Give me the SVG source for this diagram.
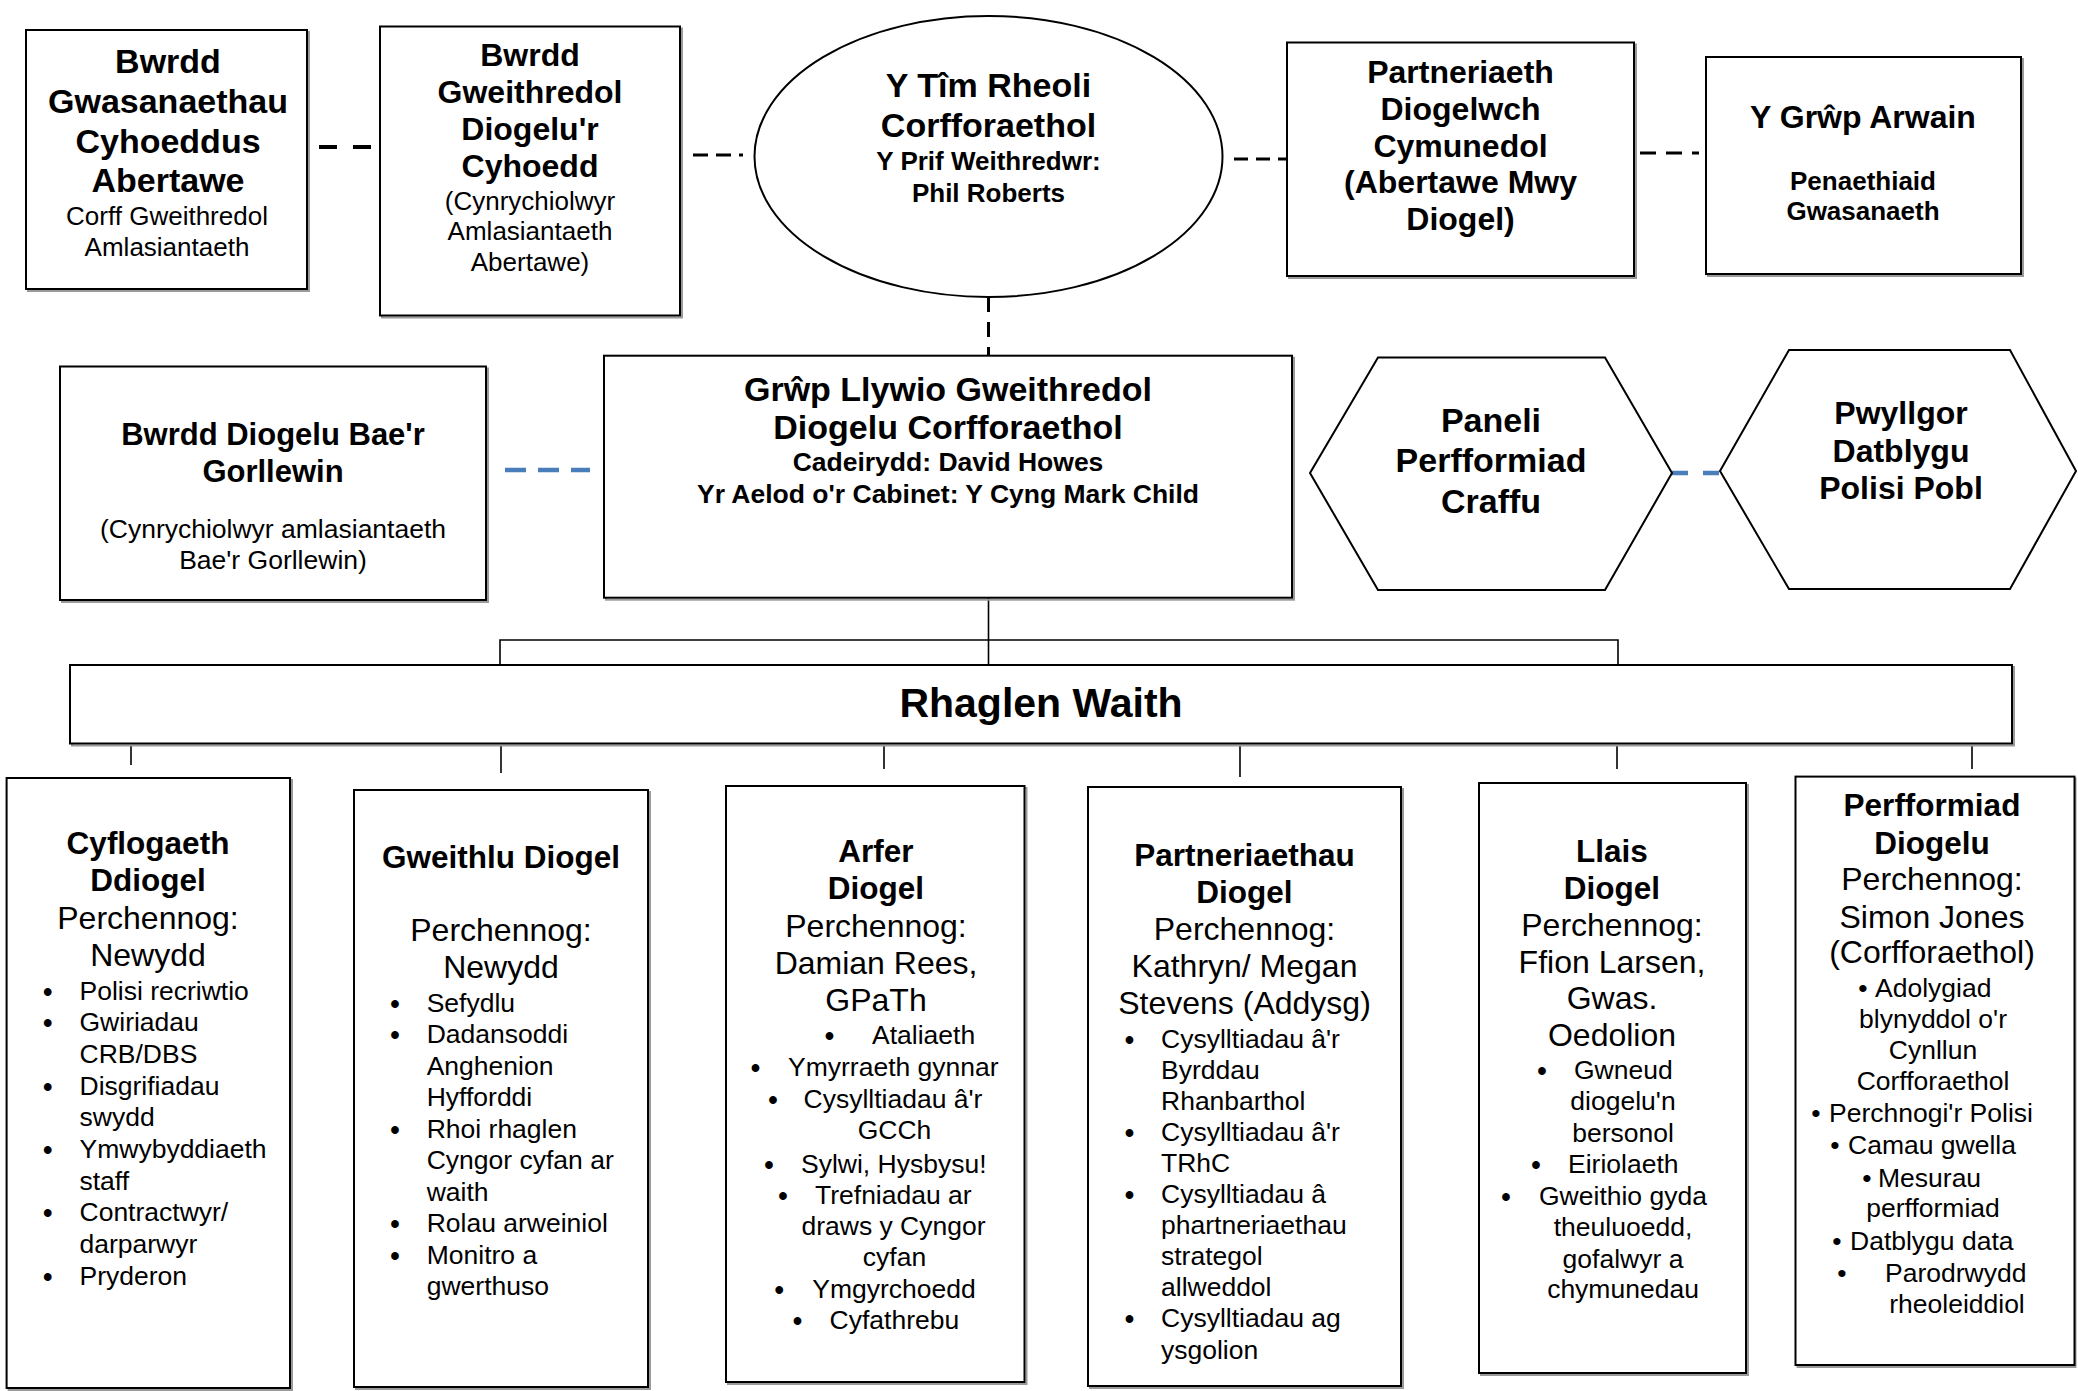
<svg xmlns="http://www.w3.org/2000/svg" width="2078" height="1391" viewBox="0 0 2078 1391">
<style>
text{font-family:'Liberation Sans',Arial,sans-serif;fill:#000}
.b{font-weight:bold;text-anchor:middle}
.c{text-anchor:middle}
.box{fill:#fff;stroke:#000;stroke-width:2}
.sh{fill:none;stroke:#9a9a9a;stroke-width:2}
.k{stroke:#000;fill:none}
.blue{stroke:#4a7ebb;fill:none;stroke-width:4.5}
.t{stroke:#000;stroke-width:1.6;fill:none}
.bl{font-size:26.5px}
.dot{font-size:27px;font-weight:bold;text-anchor:middle}
</style>
<rect width="2078" height="1391" fill="#fff"/>

<g id="connectors">
<line class="k" x1="319" y1="147" x2="371" y2="147" stroke-width="4" stroke-dasharray="18 16"/>
<line class="k" x1="693" y1="155" x2="743" y2="155" stroke-width="3" stroke-dasharray="15 8"/>
<line class="k" x1="1234" y1="159" x2="1287" y2="159" stroke-width="3" stroke-dasharray="14 8"/>
<line class="k" x1="1640" y1="153" x2="1699" y2="153" stroke-width="3" stroke-dasharray="16 10"/>
<line class="k" x1="988.5" y1="297" x2="988.5" y2="356" stroke-width="3" stroke-dasharray="15 10"/>
<line class="blue" x1="505" y1="470" x2="590" y2="470" stroke-dasharray="21 12"/>
<line class="blue" x1="1672" y1="473" x2="1720" y2="473" stroke-dasharray="16 15"/>
<path class="t" d="M988.5 598 V665 M500 665 V640 H1618 V665"/>
<line class="t" x1="131" y1="745" x2="131" y2="765"/>
<line class="t" x1="501" y1="745" x2="501" y2="773"/>
<line class="t" x1="884" y1="745" x2="884" y2="769" stroke-width="2.4"/>
<line class="t" x1="1240" y1="745" x2="1240" y2="777" stroke-width="2.4"/>
<line class="t" x1="1617" y1="745" x2="1617" y2="769" stroke-width="2.4"/>
<line class="t" x1="1972" y1="745" x2="1972" y2="769"/>
</g>

<g id="n-bwrdd-gwasanaethau">
<rect class="sh" x="28" y="32" width="281" height="259"/>
<rect class="box" x="26" y="30" width="281" height="259"/>
<text class="b" font-size="34"><tspan x="168" y="73">Bwrdd</tspan><tspan x="168" y="113">Gwasanaethau</tspan><tspan x="168" y="153">Cyhoeddus</tspan><tspan x="168" y="192">Abertawe</tspan></text>
<text class="c" font-size="26"><tspan x="167" y="225">Corff Gweithredol</tspan><tspan x="167" y="256">Amlasiantaeth</tspan></text>
</g>

<g id="n-bwrdd-gweithredol">
<rect class="sh" x="382" y="28.5" width="300" height="289"/>
<rect class="box" x="380" y="26.5" width="300" height="289"/>
<text class="b" font-size="32"><tspan x="530" y="66">Bwrdd</tspan><tspan x="530" y="103">Gweithredol</tspan><tspan x="530" y="140">Diogelu'r</tspan><tspan x="530" y="177">Cyhoedd</tspan></text>
<text class="c" font-size="26"><tspan x="530" y="209.5">(Cynrychiolwyr</tspan><tspan x="530" y="240">Amlasiantaeth</tspan><tspan x="530" y="270.5">Abertawe)</tspan></text>
</g>

<g id="n-tim-rheoli">
<ellipse cx="988.5" cy="156.5" rx="234" ry="140.5" fill="#fff" stroke="#000" stroke-width="2"/>
<text class="b" font-size="34"><tspan x="988.5" y="97">Y Tîm Rheoli</tspan><tspan x="988.5" y="137">Corfforaethol</tspan></text>
<text class="b" font-size="26"><tspan x="988.5" y="170">Y Prif Weithredwr:</tspan><tspan x="988.5" y="201.5">Phil Roberts</tspan></text>
</g>

<g id="n-partneriaeth">
<rect class="sh" x="1289" y="44.5" width="347" height="233.5"/>
<rect class="box" x="1287" y="42.5" width="347" height="233.5"/>
<text class="b" font-size="32"><tspan x="1460.5" y="83">Partneriaeth</tspan><tspan x="1460.5" y="120">Diogelwch</tspan><tspan x="1460.5" y="157">Cymunedol</tspan><tspan x="1460.5" y="193">(Abertawe Mwy</tspan><tspan x="1460.5" y="230">Diogel)</tspan></text>
</g>

<g id="n-grwp-arwain">
<rect class="sh" x="1708" y="59" width="315" height="217"/>
<rect class="box" x="1706" y="57" width="315" height="217"/>
<text class="b" font-size="32" x="1863" y="128">Y Grŵp Arwain</text>
<text class="b" font-size="26"><tspan x="1863" y="189.5">Penaethiaid</tspan><tspan x="1863" y="220">Gwasanaeth</tspan></text>
</g>

<g id="n-bae-gorllewin">
<rect class="sh" x="62" y="368.5" width="426" height="233.5"/>
<rect class="box" x="60" y="366.5" width="426" height="233.5"/>
<text class="b" font-size="31"><tspan x="273" y="444.5">Bwrdd Diogelu Bae'r</tspan><tspan x="273" y="481.5">Gorllewin</tspan></text>
<text class="c" font-size="26.5"><tspan x="273" y="538.3">(Cynrychiolwyr amlasiantaeth</tspan><tspan x="273" y="568.8">Bae'r Gorllewin)</tspan></text>
</g>

<g id="n-grwp-llywio">
<rect class="sh" x="606" y="357.7" width="688" height="242"/>
<rect class="box" x="604" y="355.7" width="688" height="242"/>
<text class="b" font-size="34"><tspan x="948" y="400.5">Grŵp Llywio Gweithredol</tspan><tspan x="948" y="439">Diogelu Corfforaethol</tspan></text>
<text class="b" font-size="26.5"><tspan x="948" y="470.5">Cadeirydd: David Howes</tspan><tspan x="948" y="502.5">Yr Aelod o'r Cabinet: Y Cyng Mark Child</tspan></text>
</g>

<g id="n-paneli">
<polygon points="1310,473 1378,357.5 1605,357.5 1672,473 1605,590 1378,590" fill="#fff" stroke="#000" stroke-width="2"/>
<text class="b" font-size="34"><tspan x="1491" y="432">Paneli</tspan><tspan x="1491" y="472">Perfformiad</tspan><tspan x="1491" y="513">Craffu</tspan></text>
</g>

<g id="n-pwyllgor">
<polygon points="1720,471 1789,350 2010,350 2076,471 2010,589 1789,589" fill="#fff" stroke="#000" stroke-width="2"/>
<text class="b" font-size="32"><tspan x="1901" y="424">Pwyllgor</tspan><tspan x="1901" y="461.5">Datblygu</tspan><tspan x="1901" y="498.5">Polisi Pobl</tspan></text>
</g>

<g id="n-rhaglen-waith">
<rect class="sh" x="72" y="667" width="1942" height="78.5"/>
<rect class="box" x="70" y="665" width="1942" height="78.5"/>
<text class="b" font-size="41" x="1041" y="716.5">Rhaglen Waith</text>
</g>

<g id="n-cyflogaeth">
<rect class="sh" x="8.6" y="780" width="283.4" height="610"/>
<rect class="box" x="6.6" y="778" width="283.4" height="610"/>
<text class="b" font-size="31.5"><tspan x="148" y="854">Cyflogaeth</tspan><tspan x="148" y="891">Ddiogel</tspan></text>
<text class="c" font-size="32"><tspan x="148" y="928.5">Perchennog:</tspan><tspan x="148" y="965.5">Newydd</tspan></text>
<text class="dot"><tspan x="47.7" y="1000.5">•</tspan><tspan x="47.7" y="1032.2">•</tspan><tspan x="47.7" y="1095.6">•</tspan><tspan x="47.7" y="1159">•</tspan><tspan x="47.7" y="1222.4">•</tspan><tspan x="47.7" y="1285.8">•</tspan></text>
<text class="bl"><tspan x="79.5" y="999.5">Polisi recriwtio</tspan><tspan x="79.5" y="1031.2">Gwiriadau</tspan><tspan x="79.5" y="1062.9">CRB/DBS</tspan><tspan x="79.5" y="1094.6">Disgrifiadau</tspan><tspan x="79.5" y="1126.3">swydd</tspan><tspan x="79.5" y="1158">Ymwybyddiaeth</tspan><tspan x="79.5" y="1189.7">staff</tspan><tspan x="79.5" y="1221.4">Contractwyr/</tspan><tspan x="79.5" y="1253.1">darparwyr</tspan><tspan x="79.5" y="1284.8">Pryderon</tspan></text>
</g>

<g id="n-gweithlu">
<rect class="sh" x="356" y="792" width="294" height="597"/>
<rect class="box" x="354" y="790" width="294" height="597"/>
<text class="b" font-size="31.5" x="501" y="867.5">Gweithlu Diogel</text>
<text class="c" font-size="32"><tspan x="501" y="940.5">Perchennog:</tspan><tspan x="501" y="977.5">Newydd</tspan></text>
<text class="dot"><tspan x="395" y="1012.5">•</tspan><tspan x="395" y="1044">•</tspan><tspan x="395" y="1138.5">•</tspan><tspan x="395" y="1233">•</tspan><tspan x="395" y="1264.5">•</tspan></text>
<text class="bl"><tspan x="426.7" y="1011.5">Sefydlu</tspan><tspan x="426.7" y="1043">Dadansoddi</tspan><tspan x="426.7" y="1074.5">Anghenion</tspan><tspan x="426.7" y="1106">Hyfforddi</tspan><tspan x="426.7" y="1137.5">Rhoi rhaglen</tspan><tspan x="426.7" y="1169">Cyngor cyfan ar</tspan><tspan x="426.7" y="1200.5">waith</tspan><tspan x="426.7" y="1232">Rolau arweiniol</tspan><tspan x="426.7" y="1263.5">Monitro a</tspan><tspan x="426.7" y="1295">gwerthuso</tspan></text>
</g>

<g id="n-arfer">
<rect class="sh" x="728" y="788" width="298.5" height="596"/>
<rect class="box" x="726" y="786" width="298.5" height="596"/>
<text class="b" font-size="31.5"><tspan x="876" y="862">Arfer</tspan><tspan x="876" y="899">Diogel</tspan></text>
<text class="c" font-size="32"><tspan x="876" y="936.5">Perchennog:</tspan><tspan x="876" y="973.5">Damian Rees,</tspan><tspan x="876" y="1010.5">GPaTh</tspan></text>
<text class="dot"><tspan x="829.6" y="1044.5">•</tspan><tspan x="755.6" y="1077">•</tspan><tspan x="773" y="1109">•</tspan><tspan x="769" y="1173.5">•</tspan><tspan x="783" y="1204.5">•</tspan><tspan x="779.3" y="1298.5">•</tspan><tspan x="797.5" y="1330">•</tspan></text>
<text class="bl"><tspan x="872" y="1043.5">Ataliaeth</tspan><tspan x="788" y="1076">Ymyrraeth gynnar</tspan><tspan x="803.5" y="1108">Cysylltiadau â'r</tspan><tspan x="801" y="1172.5">Sylwi, Hysbysu!</tspan><tspan x="815" y="1203.5">Trefniadau ar</tspan><tspan x="812.3" y="1297.5">Ymgyrchoedd</tspan><tspan x="829.6" y="1329">Cyfathrebu</tspan></text>
<text class="bl c"><tspan x="894.5" y="1139">GCCh</tspan><tspan x="893.5" y="1235">draws y Cyngor</tspan><tspan x="894.5" y="1266">cyfan</tspan></text>
</g>

<g id="n-partneriaethau">
<rect class="sh" x="1090" y="789" width="313" height="599"/>
<rect class="box" x="1088" y="787" width="313" height="599"/>
<text class="b" font-size="31.5"><tspan x="1244.5" y="866">Partneriaethau</tspan><tspan x="1244.5" y="903">Diogel</tspan></text>
<text class="c" font-size="32"><tspan x="1244.5" y="939.5">Perchennog:</tspan><tspan x="1244.5" y="976.5">Kathryn/ Megan</tspan><tspan x="1244.5" y="1013.5">Stevens (Addysg)</tspan></text>
<text class="dot"><tspan x="1129.5" y="1048.5">•</tspan><tspan x="1129.5" y="1141.8">•</tspan><tspan x="1129.5" y="1204">•</tspan><tspan x="1129.5" y="1328.4">•</tspan></text>
<text class="bl"><tspan x="1161" y="1047.5">Cysylltiadau â'r</tspan><tspan x="1161" y="1078.6">Byrddau</tspan><tspan x="1161" y="1109.7">Rhanbarthol</tspan><tspan x="1161" y="1140.8">Cysylltiadau â'r</tspan><tspan x="1161" y="1171.9">TRhC</tspan><tspan x="1161" y="1203">Cysylltiadau â</tspan><tspan x="1161" y="1234.1">phartneriaethau</tspan><tspan x="1161" y="1265.2">strategol</tspan><tspan x="1161" y="1296.3">allweddol</tspan><tspan x="1161" y="1327.4">Cysylltiadau ag</tspan><tspan x="1161" y="1358.5">ysgolion</tspan></text>
</g>

<g id="n-llais">
<rect class="sh" x="1481" y="785" width="267" height="590"/>
<rect class="box" x="1479" y="783" width="267" height="590"/>
<text class="b" font-size="31.5"><tspan x="1612" y="862">Llais</tspan><tspan x="1612" y="899">Diogel</tspan></text>
<text class="c" font-size="32"><tspan x="1612" y="935.5">Perchennog:</tspan><tspan x="1612" y="972.5">Ffion Larsen,</tspan><tspan x="1612" y="1008.5">Gwas.</tspan><tspan x="1612" y="1045.5">Oedolion</tspan></text>
<text class="dot"><tspan x="1542" y="1080">•</tspan><tspan x="1536" y="1174">•</tspan><tspan x="1506" y="1206">•</tspan></text>
<text class="bl"><tspan x="1574" y="1079">Gwneud</tspan><tspan x="1568" y="1173">Eiriolaeth</tspan><tspan x="1539" y="1205">Gweithio gyda</tspan></text>
<text class="bl c"><tspan x="1623" y="1110">diogelu'n</tspan><tspan x="1623" y="1141.5">bersonol</tspan><tspan x="1623" y="1236">theuluoedd,</tspan><tspan x="1623" y="1267.5">gofalwyr a</tspan><tspan x="1623" y="1298">chymunedau</tspan></text>
</g>

<g id="n-perfformiad">
<rect class="sh" x="1797.5" y="778.6" width="278" height="588.4"/>
<rect class="box" x="1795.5" y="776.6" width="279" height="588.4"/>
<text class="b" font-size="31.5"><tspan x="1932" y="816">Perfformiad</tspan><tspan x="1932" y="854">Diogelu</tspan></text>
<text class="c" font-size="32"><tspan x="1932" y="890">Perchennog:</tspan><tspan x="1932" y="927.5">Simon Jones</tspan><tspan x="1932" y="963">(Corfforaethol)</tspan></text>
<text class="bl c"><tspan x="1863" y="996.5">•</tspan><tspan x="1816" y="1121.5">•</tspan><tspan x="1835" y="1153.5">•</tspan><tspan x="1867" y="1186.5">•</tspan><tspan x="1837" y="1250">•</tspan><tspan x="1842" y="1281.5">•</tspan></text>
<text class="bl"><tspan x="1875" y="996.5">Adolygiad</tspan><tspan x="1829" y="1121.5">Perchnogi'r Polisi</tspan><tspan x="1848" y="1153.5">Camau gwella</tspan><tspan x="1878" y="1186.5">Mesurau</tspan><tspan x="1850" y="1250">Datblygu data</tspan><tspan x="1885" y="1281.5">Parodrwydd</tspan></text>
<text class="bl c"><tspan x="1933" y="1027.5">blynyddol o'r</tspan><tspan x="1933" y="1059">Cynllun</tspan><tspan x="1933" y="1089.5">Corfforaethol</tspan><tspan x="1933" y="1216.5">perfformiad</tspan><tspan x="1957" y="1312.5">rheoleiddiol</tspan></text>
</g>
</svg>
